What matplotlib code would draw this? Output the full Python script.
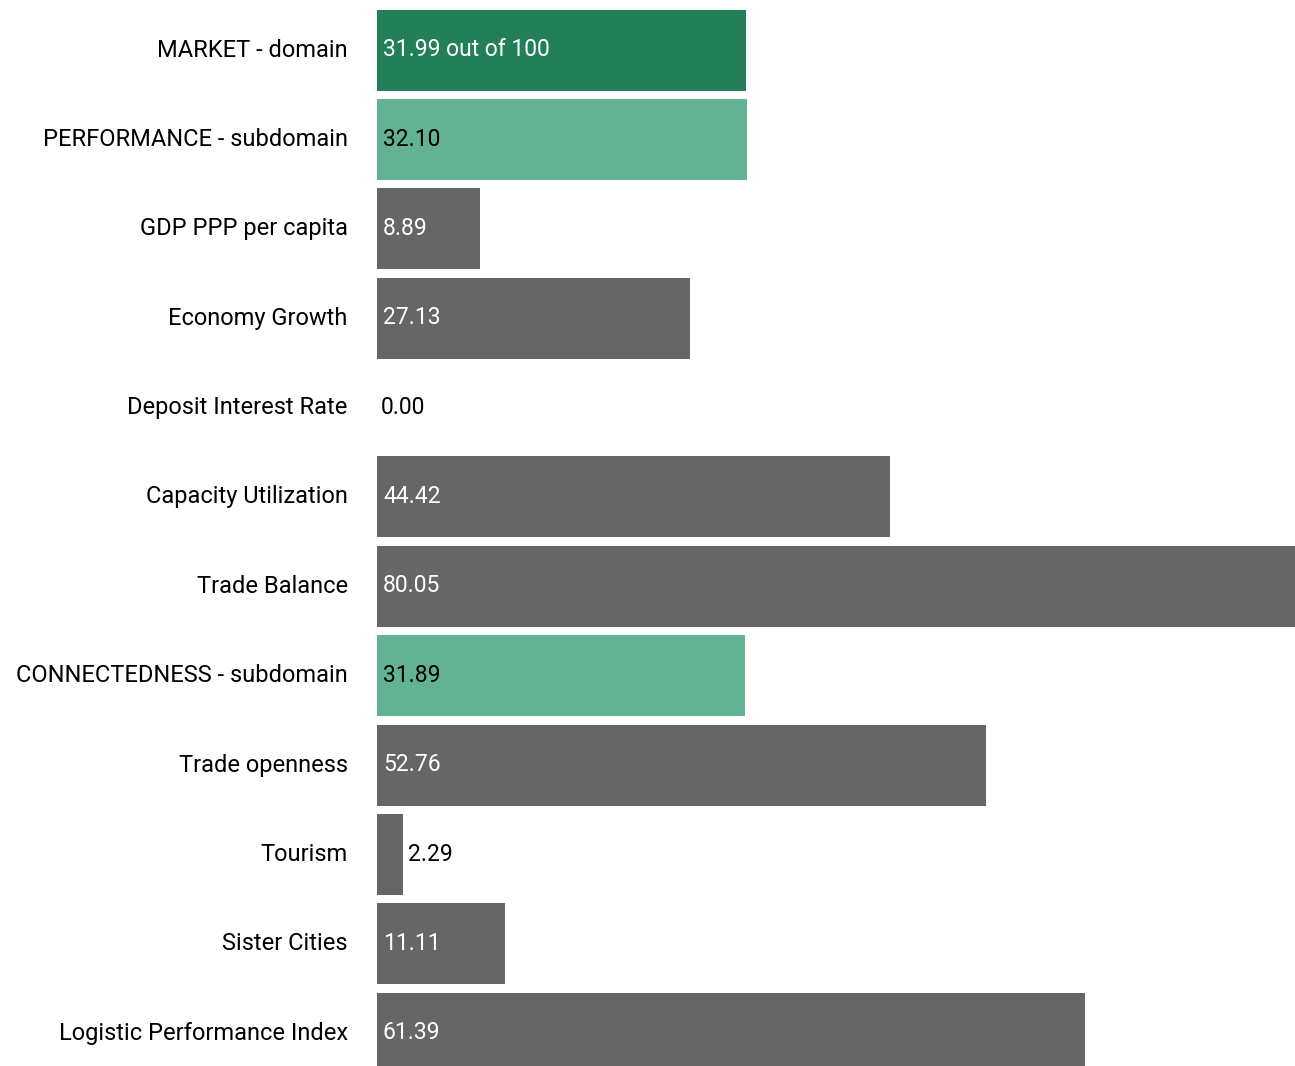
import matplotlib
matplotlib.use("Agg")
import matplotlib.pyplot as plt

categories = [
    "MARKET - domain",
    "PERFORMANCE - subdomain",
    "GDP PPP per capita",
    "Economy Growth",
    "Deposit Interest Rate",
    "Capacity Utilization",
    "Trade Balance",
    "CONNECTEDNESS - subdomain",
    "Trade openness",
    "Tourism",
    "Sister Cities",
    "Logistic Performance Index",
]
values = [31.99, 32.10, 8.89, 27.13, 0.00, 44.42, 80.05, 31.89, 52.76, 2.29, 11.11, 61.39]
levels = ["domain", "sub", "ind", "ind", "ind", "ind", "ind", "sub", "ind", "ind", "ind", "ind"]

bar_colors = {"domain": "#227F58", "sub": "#62B393", "ind": "#666666"}
text_colors = {"domain": "white", "sub": "black", "ind": "white"}

plt.rcParams["font.family"] = ["Roboto", "DejaVu Sans"]

fig = plt.figure(figsize=(12.95, 10.66), dpi=100)
ax = fig.add_axes([377 / 1295, -0.0113, 918 / 1295, 1.0063])

ys = list(range(len(categories)))
ax.barh(ys, values, height=0.906, color=[bar_colors[l] for l in levels])

# value labels: inside the bar when it is wide enough, otherwise just past its end
for y, v, lvl in zip(ys, values, levels):
    label = f"{v:.2f}" + (" out of 100" if lvl == "domain" else "")
    if v < 5:
        ax.annotate(label, (v, y), xytext=(3.5 if v > 0 else 2.5, 0.3), textcoords="offset points",
                    va="center", ha="left", fontsize=16.5, color="black")
    else:
        ax.annotate(label, (0, y), xytext=(4.3, 0.3), textcoords="offset points",
                    va="center", ha="left", fontsize=16.5, color=text_colors[lvl])

ax.set_xlim(0, 79.55)
ax.set_ylim(len(categories) - 0.5, -0.5)
ax.set_yticks(ys)
ax.set_yticklabels(categories, fontsize=17, va="center")
ax.tick_params(axis="y", length=0, pad=21)
ax.set_xticks([])
for s in ax.spines.values():
    s.set_visible(False)

fig.savefig("out.png", dpi=100)
